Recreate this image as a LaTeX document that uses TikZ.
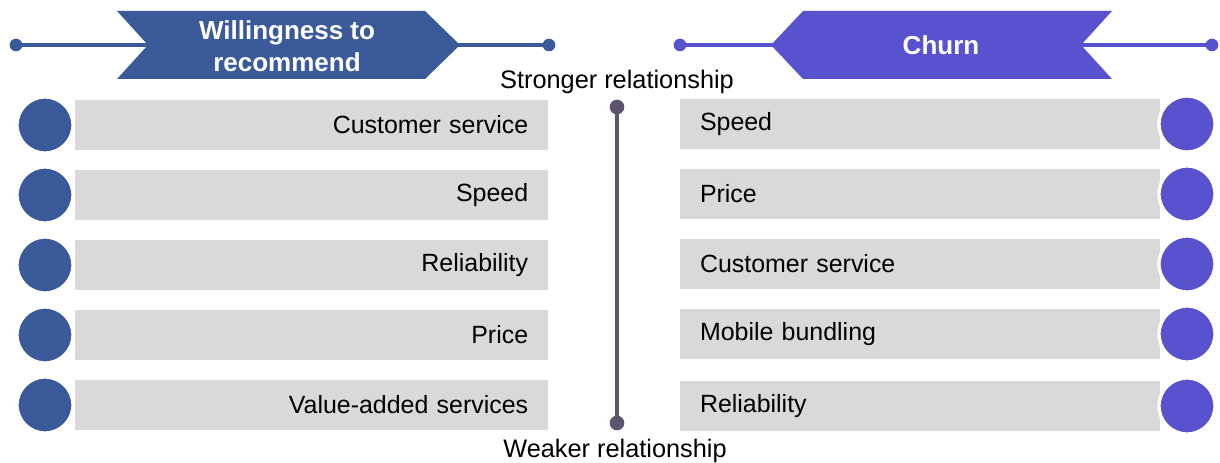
\documentclass[tikz,border=0pt]{standalone}
\usepackage{fontspec}
\setmainfont{Liberation Sans}
\usepackage{tikz}

\definecolor{wtrblue}{HTML}{3B5A9A}
\definecolor{churnblue}{HTML}{5852CF}
\definecolor{bargray}{HTML}{D9D9D9}
\definecolor{scalegray}{HTML}{5E5470}

\begin{document}
\begin{tikzpicture}[x=0.75pt,y=-0.75pt,
    left bar/.style={rectangle,fill=bargray,minimum width=355pt,minimum height=37.5pt,inner xsep=15pt,text width=325pt,align=right,font=\fontsize{18.7}{20}\selectfont},
    right bar/.style={rectangle,fill=bargray,minimum width=360pt,minimum height=37.5pt,inner xsep=15pt,text width=330pt,align=left,font=\fontsize{18.7}{20}\selectfont},
    dot/.style={circle,draw=white,line width=2.5pt,minimum size=42pt,inner sep=0pt},
    end dot/.style={circle,inner sep=0pt,minimum size=9.5pt},
    banner text/.style={text=white,font=\bfseries\fontsize{19.5}{24}\selectfont,align=center}]

  \useasboundingbox (0,0) rectangle (1220,463);

  % left header
  \coordinate (wl) at (16,45);
  \coordinate (wr) at (549,45);
  \draw[wtrblue,line width=2.3pt] (wl) -- (wr);
  \node[end dot,fill=wtrblue] at (wl) {};
  \node[end dot,fill=wtrblue] at (wr) {};
  \fill[wtrblue] (117,11) -- (425,11) -- (460,45) -- (425,79) -- (117,79) -- (148,45) -- cycle;
  \node[banner text] (wtr) at (287,46) {Willingness to\\recommend};

  % right header
  \coordinate (cl) at (680,45);
  \coordinate (cr) at (1212,45);
  \draw[churnblue,line width=2.3pt] (cl) -- (cr);
  \node[end dot,fill=churnblue] at (cl) {};
  \node[end dot,fill=churnblue] at (cr) {};
  \fill[churnblue] (803,11) -- (1112,11) -- (1081,45) -- (1112,79) -- (803,79) -- (771,45) -- cycle;
  \node[banner text] (churn) at (941,45) {Churn};

  % left list
  \foreach \y/\txt [count=\i] in {125/Customer service,195/Speed,265/Reliability,335/Price,405/Value-added services} {
    \node[left bar] (l\i) at (311.5,\y) {\txt};
    \node[dot,fill=wtrblue] (lc\i) at (45,\y) {};
  }

  % right list
  \foreach \y/\txt [count=\i] in {124/Speed,194/Price,264/Customer service,334/Mobile bundling,406/Reliability} {
    \node[right bar] (r\i) at (920,\y) {\txt};
    \node[dot,fill=churnblue] (rc\i) at (1187,\y) {};
  }

  % scale
  \coordinate (top) at (617,107);
  \coordinate (bot) at (617,423);
  \draw[scalegray,line width=2.5pt] (top) -- (bot);
  \node[end dot,fill=scalegray,minimum size=11pt] at (top) {};
  \node[end dot,fill=scalegray,minimum size=11pt] at (bot) {};
  \node[font=\fontsize{19}{20}\selectfont] (strong) at (617,82) {Stronger relationship};
  \node[font=\fontsize{19}{20}\selectfont] (weak) at (615,451) {Weaker relationship};

\end{tikzpicture}
\end{document}
